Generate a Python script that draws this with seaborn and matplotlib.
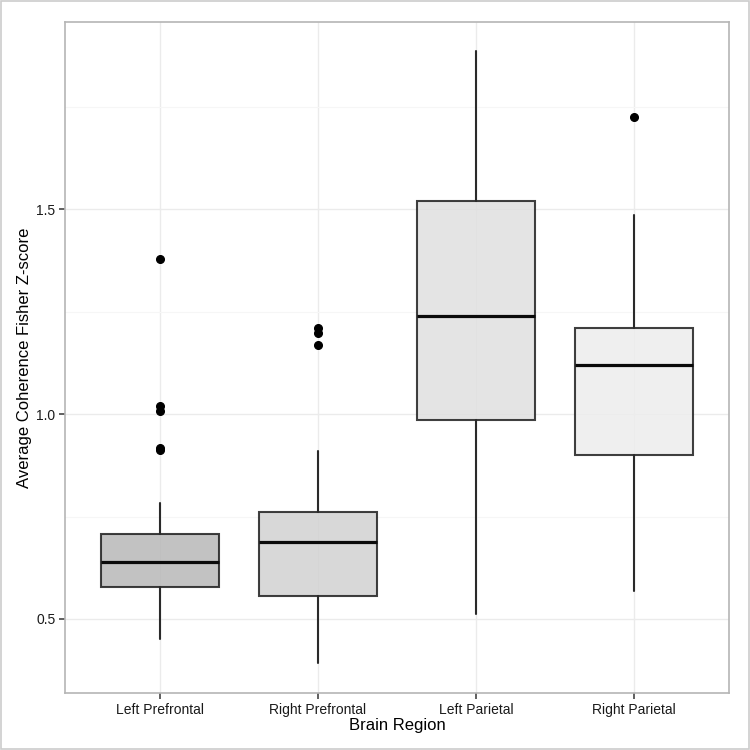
import matplotlib
matplotlib.use("Agg")
import matplotlib.pyplot as plt
import seaborn as sns
from matplotlib.ticker import MultipleLocator

# ---- data ----
regions = ["Left Prefrontal", "Right Prefrontal", "Left Parietal", "Right Parietal"]
whisker_low = [0.452, 0.392, 0.511, 0.569]
q1 = [0.579, 0.557, 0.985, 0.900]
median = [0.639, 0.687, 1.240, 1.121]
q3 = [0.708, 0.761, 1.520, 1.211]
whisker_high = [0.783, 0.911, 1.886, 1.487]
outliers = [
    [1.379, 1.020, 1.009, 0.917, 0.913],
    [1.210, 1.199, 1.170],
    [],
    [1.726],
]
box_colors = ["#b8b8b8", "#d2d2d2", "#e0e0e0", "#ededed"]
y_ticks = [0.5, 1.0, 1.5]

sns.set_theme(style="whitegrid")
plt.rcParams["font.family"] = ["Liberation Sans", "DejaVu Sans"]

fig = plt.figure(figsize=(7.5, 7.5), dpi=100)
ax = fig.add_axes([0.0867, 0.076, 0.972 - 0.0867, 0.9707 - 0.076])

stats = []
for i, name in enumerate(regions):
    stats.append(dict(label=name, whislo=whisker_low[i], q1=q1[i], med=median[i],
                      q3=q3[i], whishi=whisker_high[i], fliers=outliers[i]))

positions = list(range(len(regions)))
bp = ax.bxp(stats, positions=positions, widths=0.75, patch_artist=True,
            showcaps=False, zorder=3,
            boxprops=dict(edgecolor="#1e1e1e", linewidth=1.5),
            medianprops=dict(color="#0a0a0a", linewidth=2.3),
            whiskerprops=dict(color="#2a2a2a", linewidth=1.5),
            flierprops=dict(marker="o", markerfacecolor="black", markeredgecolor="black",
                            markersize=5.5, linestyle="none"))
for patch, c in zip(bp["boxes"], box_colors):
    patch.set_facecolor(c)
    patch.set_alpha(0.85)
    patch.set_edgecolor("#1e1e1e")

ax.set_xlim(-0.6, len(regions) - 0.4)
ax.set_ylim(0.319, 1.958)
ax.set_xticks(positions)
ax.set_xticklabels(regions)
ax.set_yticks(y_ticks)
ax.set_yticklabels([f"{v:.1f}" for v in y_ticks])
ax.yaxis.set_minor_locator(MultipleLocator(0.25))

ax.set_facecolor("white")
ax.grid(True, which="major", color="#ebebeb", linewidth=1.0, zorder=0)
ax.grid(True, which="minor", axis="y", color="#f6f6f6", linewidth=0.8, zorder=0)
ax.set_axisbelow(True)
for s in ax.spines.values():
    s.set_edgecolor("#b5b5b5")
    s.set_linewidth(1.2)

ax.tick_params(axis="both", which="major", length=4, width=1.2, color="#444444",
               labelsize=10, labelcolor="#1a1a1a", pad=3, left=True, bottom=True)
ax.tick_params(axis="y", which="minor", length=0)

ax.set_xlabel("Brain Region", fontsize=12, color="black", labelpad=1)
ax.set_ylabel("Average Coherence Fisher Z-score", fontsize=12, color="black", labelpad=3)

# thin outer frame of the figure
fig.patches.append(plt.Rectangle((0.001, 0.001), 0.998, 0.998, transform=fig.transFigure,
                                 fill=False, edgecolor="#cccccc", linewidth=1.2))

fig.savefig("out.png", dpi=100)
